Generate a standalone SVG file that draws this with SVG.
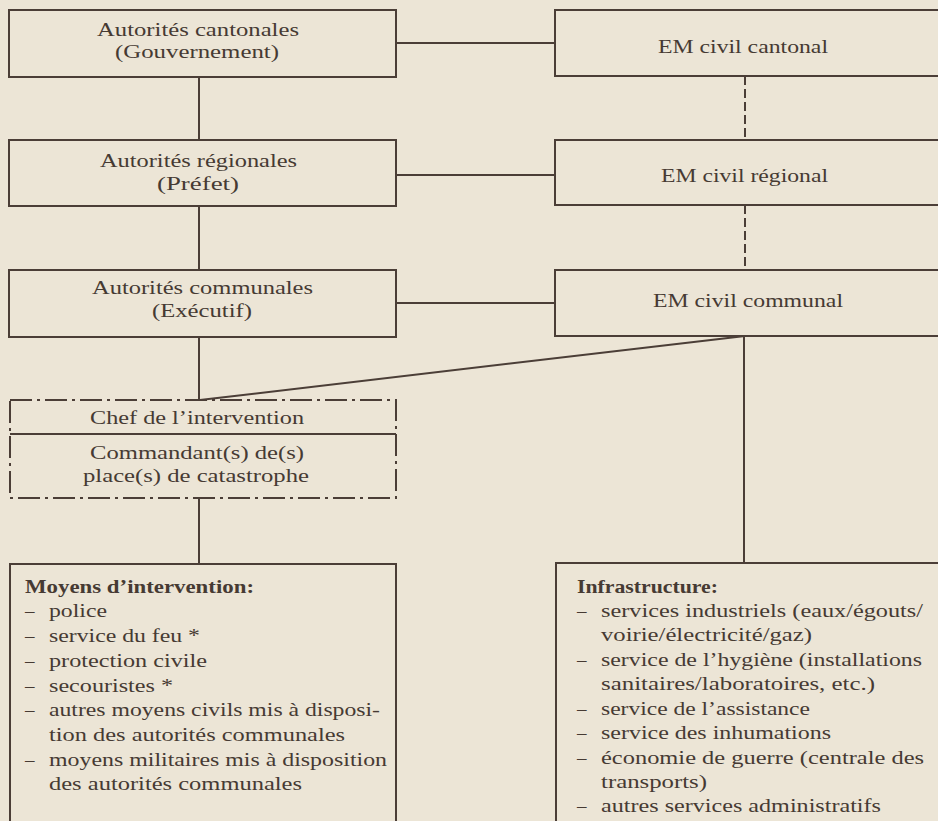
<svg xmlns="http://www.w3.org/2000/svg" width="938" height="821" viewBox="0 0 938 821">
<style>
.bg{fill:#ece5d6}
.box{fill:none;stroke:#4b3e37;stroke-width:2}
.dd{fill:none;stroke:#4b3e37;stroke-width:2;stroke-dasharray:22 5 3 5}
.ln{fill:none;stroke:#4b3e37;stroke-width:2}
.dl{fill:none;stroke:#4b3e37;stroke-width:2;stroke-dasharray:9 4}
text{font-family:"Liberation Serif","Times New Roman",serif;font-size:19px;fill:#463a33}
.b{font-weight:bold}
</style>
<rect class="bg" x="0" y="0" width="938" height="821"/>
<g id="connectors">
<line class="ln" x1="199" y1="77" x2="199" y2="140"/>
<line class="ln" x1="199" y1="206" x2="199" y2="270"/>
<line class="ln" x1="199" y1="337" x2="199" y2="400"/>
<line class="ln" x1="199" y1="498" x2="199" y2="564"/>
<line class="ln" x1="396" y1="43" x2="555" y2="43"/>
<line class="ln" x1="396" y1="175" x2="555" y2="175"/>
<line class="ln" x1="396" y1="303" x2="555" y2="303"/>
<line class="dl" x1="745" y1="76" x2="745" y2="140"/>
<line class="dl" x1="745" y1="205" x2="745" y2="270"/>
<line class="ln" x1="200" y1="400" x2="745" y2="336"/>
<line class="ln" x1="744" y1="336" x2="744" y2="563"/>
</g>
<g id="cantonales">
<rect class="box" x="9" y="10" width="387" height="67"/>
<text x="97" y="35.5" textLength="202" lengthAdjust="spacingAndGlyphs">Autorités cantonales</text>
<text x="115" y="58" textLength="164" lengthAdjust="spacingAndGlyphs">(Gouvernement)</text>
</g>
<g id="regionales">
<rect class="box" x="9" y="140" width="387" height="66"/>
<text x="100" y="167" textLength="197" lengthAdjust="spacingAndGlyphs">Autorités régionales</text>
<text x="157" y="190" textLength="82" lengthAdjust="spacingAndGlyphs">(Préfet)</text>
</g>
<g id="communales">
<rect class="box" x="9" y="270" width="387" height="67"/>
<text x="92" y="294" textLength="221" lengthAdjust="spacingAndGlyphs">Autorités communales</text>
<text x="152" y="317" textLength="100" lengthAdjust="spacingAndGlyphs">(Exécutif)</text>
</g>
<g id="em-cantonal">
<rect class="box" x="555" y="10" width="400" height="66"/>
<text x="658" y="53" textLength="170" lengthAdjust="spacingAndGlyphs">EM civil cantonal</text>
</g>
<g id="em-regional">
<rect class="box" x="555" y="140" width="400" height="65"/>
<text x="661" y="182" textLength="167" lengthAdjust="spacingAndGlyphs">EM civil régional</text>
</g>
<g id="em-communal">
<rect class="box" x="555" y="270" width="400" height="66"/>
<text x="653" y="307" textLength="190" lengthAdjust="spacingAndGlyphs">EM civil communal</text>
</g>
<g id="chef">
<rect class="dd" x="10" y="400" width="386" height="98"/>
<line class="ln" x1="10" y1="434" x2="396" y2="434"/>
<text x="90" y="424" textLength="214" lengthAdjust="spacingAndGlyphs">Chef de l’intervention</text>
<text x="90" y="459" textLength="214" lengthAdjust="spacingAndGlyphs">Commandant(s) de(s)</text>
<text x="83" y="481.5" textLength="226" lengthAdjust="spacingAndGlyphs">place(s) de catastrophe</text>
</g>
<g id="moyens">
<rect class="box" x="10" y="564" width="386" height="280"/>
<text class="b" x="25" y="593" textLength="229" lengthAdjust="spacingAndGlyphs">Moyens d’intervention:</text>
<text x="25" y="617">–</text><text x="49" y="617" textLength="58" lengthAdjust="spacingAndGlyphs">police</text>
<text x="25" y="642">–</text><text x="49" y="642" textLength="151" lengthAdjust="spacingAndGlyphs">service du feu *</text>
<text x="25" y="667">–</text><text x="49" y="667" textLength="158" lengthAdjust="spacingAndGlyphs">protection civile</text>
<text x="25" y="691.5">–</text><text x="49" y="691.5" textLength="124" lengthAdjust="spacingAndGlyphs">secouristes *</text>
<text x="25" y="716">–</text><text x="49" y="716" textLength="331" lengthAdjust="spacingAndGlyphs">autres moyens civils mis à disposi-</text>
<text x="49" y="741" textLength="296" lengthAdjust="spacingAndGlyphs">tion des autorités communales</text>
<text x="25" y="766">–</text><text x="49" y="766" textLength="338" lengthAdjust="spacingAndGlyphs">moyens militaires mis à disposition</text>
<text x="49" y="790" textLength="253" lengthAdjust="spacingAndGlyphs">des autorités communales</text>
</g>
<g id="infrastructure">
<rect class="box" x="556" y="563" width="400" height="280"/>
<text class="b" x="577" y="592.5" textLength="141" lengthAdjust="spacingAndGlyphs">Infrastructure:</text>
<text x="577" y="617">–</text><text x="601" y="617" textLength="322" lengthAdjust="spacingAndGlyphs">services industriels (eaux/égouts/</text>
<text x="601" y="641" textLength="211" lengthAdjust="spacingAndGlyphs">voirie/électricité/gaz)</text>
<text x="577" y="665.5">–</text><text x="601" y="665.5" textLength="321" lengthAdjust="spacingAndGlyphs">service de l’hygiène (installations</text>
<text x="601" y="690" textLength="274" lengthAdjust="spacingAndGlyphs">sanitaires/laboratoires, etc.)</text>
<text x="577" y="714.5">–</text><text x="601" y="714.5" textLength="209" lengthAdjust="spacingAndGlyphs">service de l’assistance</text>
<text x="577" y="739">–</text><text x="601" y="739" textLength="230" lengthAdjust="spacingAndGlyphs">service des inhumations</text>
<text x="577" y="763.5">–</text><text x="601" y="763.5" textLength="323" lengthAdjust="spacingAndGlyphs">économie de guerre (centrale des</text>
<text x="601" y="788" textLength="106" lengthAdjust="spacingAndGlyphs">transports)</text>
<text x="577" y="812">–</text><text x="601" y="812" textLength="280" lengthAdjust="spacingAndGlyphs">autres services administratifs</text>
</g>
</svg>
